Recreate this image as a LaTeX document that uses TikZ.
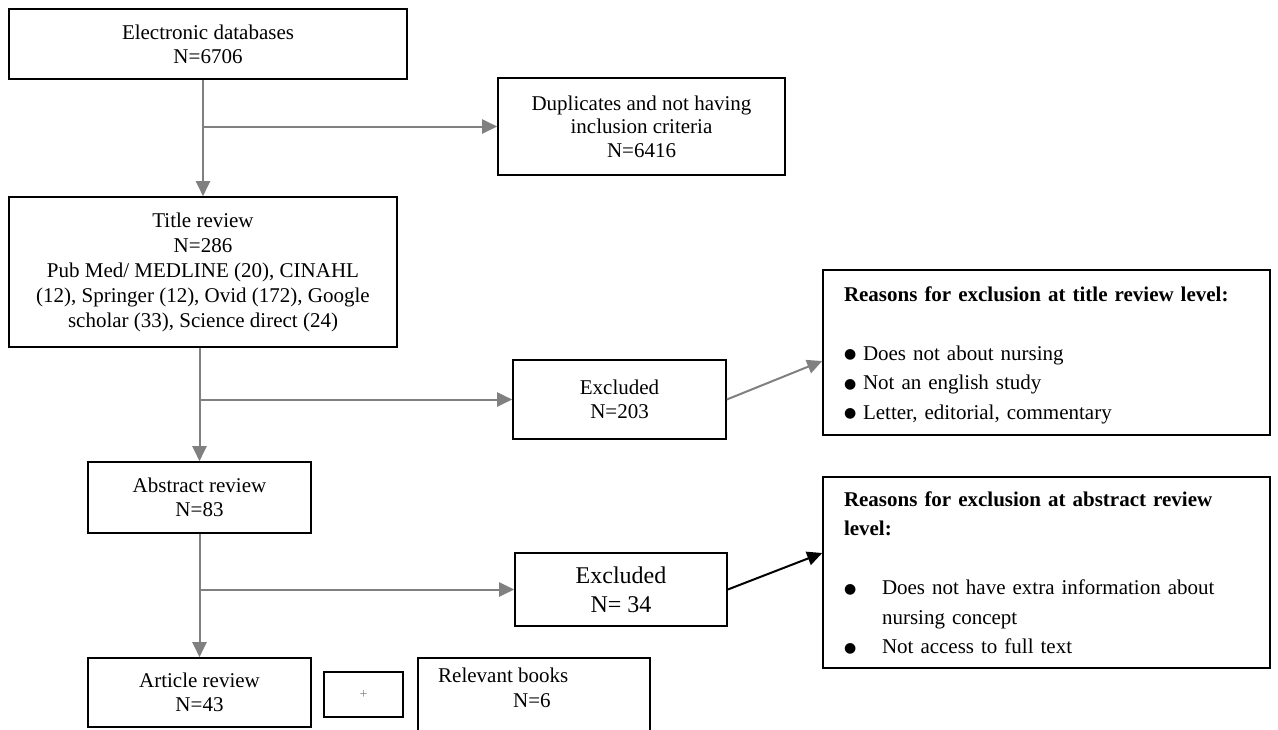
\documentclass[tikz,border=0pt]{standalone}
\usepackage{fontspec}
\setmainfont{Liberation Serif}
\newfontfamily\symbolfont{DejaVu Sans}
\usetikzlibrary{arrows.meta}
\definecolor{linkgray}{RGB}{128,128,128}
\newcommand{\bul}{\raisebox{1.5pt}{\fontsize{14}{14}\symbolfont ●}}

\begin{document}
\begin{tikzpicture}[x=1pt, y=-1pt,
   box/.style={draw, line width=1.6pt, inner sep=0pt, align=center,
      font=\fontsize{21}{24}\selectfont},
   reasons/.style={box, minimum width=447pt, text width=405pt, align=left,
      font=\fontsize{21}{29.5}\selectfont},
   link/.style={draw=linkgray, line width=2pt,
      -{Triangle[length=15pt,width=14pt]}},
   blacklink/.style={link, draw=black}]

\useasboundingbox (0,0) rectangle (1278,729);

\node[box, minimum width=398pt, minimum height=70pt] (ED) at (208,44)
    {Electronic databases\\N=6706};
\node[box, minimum width=287pt, minimum height=97pt, font=\fontsize{21}{23.5}\selectfont] (dup) at (641.5,126.5)
    {Duplicates and not having\\inclusion criteria\\N=6416};
\node[box, minimum width=388pt, minimum height=150pt, font=\fontsize{21}{25}\selectfont] (title) at (203,272)
    {Title review\\N=286\\Pub Med/ MEDLINE (20), CINAHL\\(12), Springer (12), Ovid (172), Google\\scholar (33), Science direct (24)};
\node[box, minimum width=213pt, minimum height=79pt] (ex1) at (619.5,399.5)
    {Excluded\\N=203};
\node[reasons, minimum height=165pt] (rs1) at (1046.5,352.5)
    {\rule{0pt}{20.5pt}\textbf{Reasons for exclusion at title review level:}\\[29.5pt]
     \makebox[19pt][l]{\bul}Does not about nursing\\
     \makebox[19pt][l]{\bul}Not an english study\\
     \makebox[19pt][l]{\bul}Letter, editorial, commentary};
\node[box, minimum width=223pt, minimum height=71pt] (abs) at (199.5,497.5)
    {Abstract review\\N=83};
\node[box, minimum width=212pt, minimum height=73pt, font=\fontsize{24}{29}\selectfont] (ex2) at (621,589.5)
    {Excluded\\N= 34};
\node[reasons, minimum height=191pt] (rs2) at (1046.5,572.5)
    {\textbf{Reasons for exclusion at abstract review}\\
     \textbf{level:}\\[29.5pt]
     \makebox[38pt][l]{\bul}Does not have extra information about\\
     \hspace*{38pt}nursing concept\\
     \makebox[38pt][l]{\bul}Not access to full text};
\node[box, minimum width=223pt, minimum height=69pt] (art) at (199.5,692.5)
    {Article review\\N=43};
\node[box, minimum width=79pt, minimum height=45pt, text=linkgray, font=\fontsize{14}{14}\selectfont] (plus) at (363.5,694.5)
    {+};
\node[box, anchor=north west, minimum width=232pt, minimum height=110pt,
      label={[anchor=north west, align=left, inner xsep=21pt, inner ysep=11pt,
              font=\fontsize{21}{25}\selectfont]north west:{Relevant books\\\hspace*{75pt}N=6}}]
    (books) at (417,657) {};

\draw[link] (title.north |- ED.south) -- (title.north);
\draw[link] (title.north |- dup.west) -- (dup.west);
\draw[link] (abs.north |- title.south) -- (abs.north);
\draw[link] (abs.north |- ex1.west) -- (ex1.west);
\draw[link] (ex1.east) -- ([yshift=-8.5pt]rs1.west);
\draw[link] (art.north |- abs.south) -- (art.north);
\draw[link] (art.north |- ex2.west) -- (ex2.west);
\draw[blacklink] (ex2.east) -- ([yshift=19.5pt]rs2.west);

\end{tikzpicture}
\end{document}
